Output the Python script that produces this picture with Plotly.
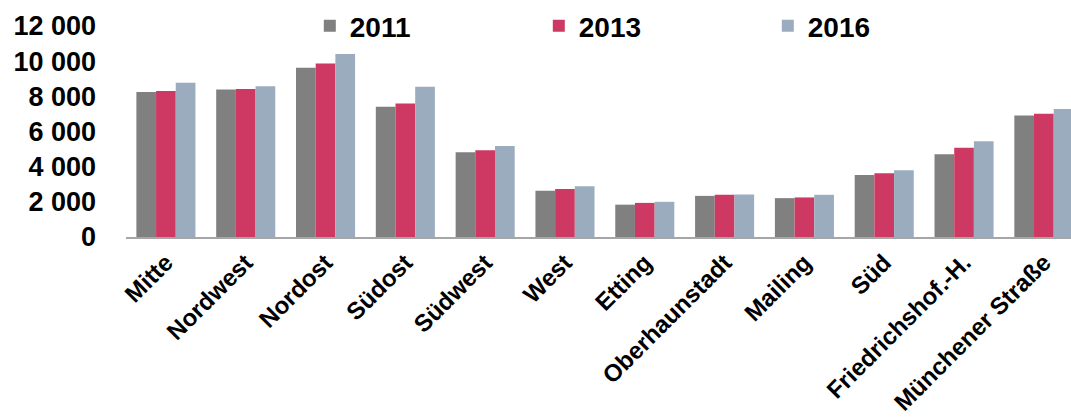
import plotly.graph_objects as go

categories = ["Mitte", "Nordwest", "Nordost", "Südost", "Südwest", "West", "Etting",
              "Oberhaunstadt", "Mailing", "Süd", "Friedrichshof.-H.", "Münchener Straße"]
v2011 = [8250, 8390, 9620, 7410, 4820, 2630, 1840, 2340, 2210, 3530, 4700, 6910]
v2013 = [8300, 8410, 9870, 7590, 4940, 2730, 1940, 2400, 2250, 3630, 5070, 7010]
v2016 = [8770, 8570, 10410, 8550, 5170, 2880, 2000, 2420, 2400, 3800, 5450, 7280]
series = [("2011", v2011, "#808080"), ("2013", v2013, "#CD3962"), ("2016", v2016, "#9BACBE")]
yticks = [0, 2000, 4000, 6000, 8000, 10000, 12000]

FONT = "Liberation Sans, Arial, sans-serif"
fig = go.Figure()
for name, vals, col in series:
    fig.add_trace(go.Bar(x=categories, y=vals, name=name, marker_color=col,
                         marker_line_width=0))

fig.update_layout(
    width=1071, height=419,
    margin=dict(l=126, r=0, t=26, b=182, autoexpand=False),
    paper_bgcolor="white", plot_bgcolor="white",
    barmode="group", bargap=0.26, bargroupgap=0,
    separators=", ",
    font=dict(family=FONT, color="black"),
    legend=dict(orientation="h", x=0.1945, xanchor="left", y=1.0, yanchor="middle",
                font=dict(size=28, family=FONT, weight="bold"),
                entrywidth=184, entrywidthmode="pixels", itemwidth=30,
                bgcolor="rgba(0,0,0,0)"),
    showlegend=True,
)
fig.update_yaxes(range=[0, 12000], tickvals=yticks, tickformat=",.0f", showgrid=False,
                 zeroline=False, showline=False, ticks="",
                 tickfont=dict(size=27, family=FONT, weight="bold"),
                 ticklabelstandoff=29)
fig.update_xaxes(showline=True, linecolor="#A6A6A6", linewidth=2, ticks="",
                 range=[-0.5, 11.34],
                 tickangle=-45, tickfont=dict(size=24, family=FONT, weight="bold"),
                 showgrid=False)

fig.write_html("out.html", config={"displayModeBar": False},
               post_script="document.body.style.margin='0';")
